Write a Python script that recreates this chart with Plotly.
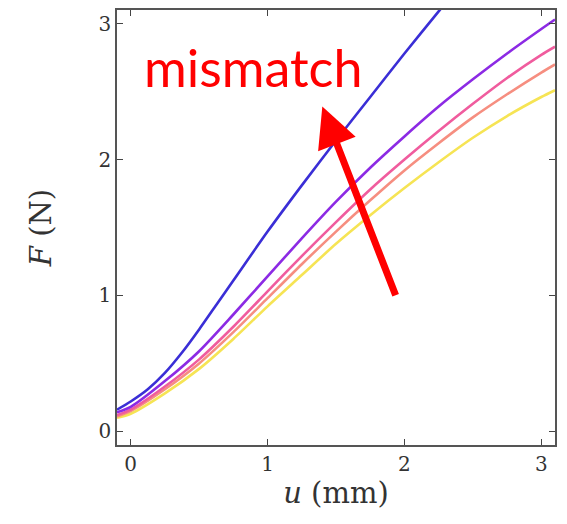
import plotly.graph_objects as go

# Displacement grid (mm) and force-displacement curves (N)
u = [-0.1, 0.0, 0.25, 0.5, 0.75, 1.0, 1.25, 1.5, 1.75, 2.0, 2.25, 2.5, 2.75, 3.0, 3.1]

u_blue = [-0.1, 0.0, 0.125, 0.25, 0.375, 0.5, 0.625, 0.75, 1.0, 1.25, 1.5, 1.75, 2.0, 2.25, 2.35]
F_blue = [0.16, 0.22, 0.31, 0.43, 0.58, 0.75, 0.93, 1.11, 1.47, 1.81, 2.14, 2.46, 2.78, 3.09, 3.21]

F_purple = [0.14, 0.18, 0.37, 0.59, 0.86, 1.14, 1.42, 1.69, 1.94, 2.17, 2.39, 2.59, 2.78, 2.96, 3.03]
F_pink = [0.12, 0.16, 0.33, 0.53, 0.77, 1.03, 1.29, 1.54, 1.78, 2.00, 2.21, 2.41, 2.60, 2.77, 2.83]
F_salmon = [0.11, 0.15, 0.31, 0.50, 0.73, 0.98, 1.23, 1.47, 1.70, 1.92, 2.12, 2.31, 2.48, 2.64, 2.70]
F_yellow = [0.10, 0.13, 0.28, 0.46, 0.68, 0.92, 1.15, 1.38, 1.59, 1.79, 1.98, 2.16, 2.32, 2.46, 2.51]

colors = ["rgb(58,46,214)", "rgb(140,42,228)", "rgb(240,92,158)", "rgb(246,142,128)", "rgb(246,228,84)"]

tick_vals = [0, 1, 2, 3]
tick_text = ["0", "1", "2", "3"]

fig = go.Figure()
series = [(u_blue, F_blue), (u, F_purple), (u, F_pink), (u, F_salmon), (u, F_yellow)]
# draw lighter curves first so the blue one sits on top
for (xs, ys), c in reversed(list(zip(series, colors))):
    fig.add_trace(go.Scatter(x=xs, y=ys, mode="lines",
                             line=dict(color=c, width=2.6, shape="spline", smoothing=0.7),
                             showlegend=False, hoverinfo="skip"))

axis_common = dict(
    showgrid=False, zeroline=False, showline=True, mirror="ticks",
    linecolor="#555", linewidth=1.5, ticks="inside", ticklen=6, tickwidth=1.2,
    tickcolor="#444", tickvals=tick_vals, ticktext=tick_text,
    tickfont=dict(family="DejaVu Serif", size=20, color="#333"),
)

fig.update_xaxes(range=[-0.1, 3.1], **axis_common,
                 title=dict(text="<i>u</i> (mm)", standoff=8,
                            font=dict(family="DejaVu Serif", size=29, color="#333")))
fig.update_yaxes(range=[-0.1, 3.1], **axis_common,
                 title=dict(text="<i>F</i> (N)", standoff=38,
                            font=dict(family="DejaVu Serif", size=29, color="#333")))

fig.add_annotation(x=1.40, y=2.39, ax=1.94, ay=0.99, axref="x", ayref="y",
                   xref="x", yref="y", text="", showarrow=True,
                   arrowhead=2, arrowsize=1.15, arrowwidth=7, arrowcolor="#ff0000")
fig.add_annotation(x=0.89, y=2.68, xref="x", yref="y", text="mismatch",
                   showarrow=False, font=dict(family="Lato", size=52, color="#ff0000"))

fig.update_layout(width=567, height=524, margin=dict(l=117, r=12, t=8, b=79),
                  plot_bgcolor="white", paper_bgcolor="white")

fig.write_html("out.html")
